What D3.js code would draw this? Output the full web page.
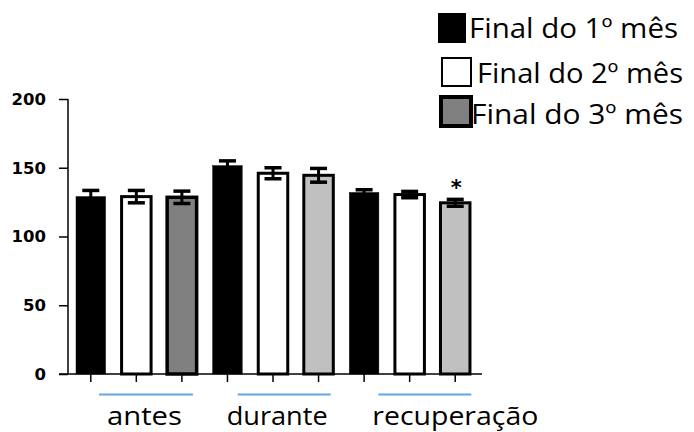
<!DOCTYPE html>
<html>
<head>
<meta charset="utf-8">
<script src="https://cdn.jsdelivr.net/npm/d3@7"></script>
<style>
html,body{margin:0;padding:0;background:#fff;}
svg{display:block;}
</style>
</head>
<body>
<svg id="chart" width="694" height="432"></svg>
<script>
// ---- data ----
const groups = ["antes", "durante", "recuperação"];
const seriesNames = ["Final do 1º mês", "Final do 2º mês", "Final do 3º mês"];
const month1 = [129, 151.5, 132];
const month2 = [129, 146, 130.5];
const month3 = [128.5, 144.5, 124.5];
const err1 = [4.5, 3.5, 2];
const err2 = [4.5, 4, 2.3];
const err3 = [4.5, 5, 2.5];
const yTicks = [0, 50, 100, 150, 200];
const significant = [{group: "recuperação", series: 2, label: "*"}];

// ---- styling ----
const fillFor = (g, s) => s === 0 ? "#000" : s === 1 ? "#fff" : (g === 0 ? "#808080" : "#c0c0c0");
const legendFill = ["#000", "#fff", "#808080"];

const svg = d3.select("#chart");
const values = [month1, month2, month3];
const errors = [err1, err2, err3];

const bars = [];
groups.forEach((g, gi) => {
  seriesNames.forEach((s, si) => {
    bars.push({id: gi + "-" + si, gi, si, group: g, v: values[si][gi], e: errors[si][gi]});
  });
});

const x = d3.scaleBand().domain(bars.map(d => d.id)).range([68, 478]).padding(0);
const y = d3.scaleLinear().domain([0, 200]).range([374, 99]);
const bw = 29.5;
const cx = d => x(d.id) + x.bandwidth() / 2;

// bars
svg.append("g").selectAll("rect").data(bars).join("rect")
  .attr("x", d => cx(d) - bw / 2)
  .attr("y", d => y(d.v))
  .attr("width", bw)
  .attr("height", d => y(0) - y(d.v))
  .attr("fill", d => fillFor(d.gi, d.si))
  .attr("stroke", "#000")
  .attr("stroke-width", d => d.si === 0 ? 0.5 : (d.gi === 0 && d.si === 2 ? 3.5 : 3));

// error bars
const eg = svg.append("g").attr("stroke", "#000");
const capW = 17;
bars.forEach(d => {
  const c = cx(d);
  eg.append("line").attr("x1", c).attr("x2", c).attr("y1", y(d.v - d.e)).attr("y2", y(d.v + d.e)).attr("stroke-width", 3);
  eg.append("line").attr("x1", c - capW / 2).attr("x2", c + capW / 2).attr("y1", y(d.v + d.e)).attr("y2", y(d.v + d.e)).attr("stroke-width", 3.5);
  eg.append("line").attr("x1", c - capW / 2).attr("x2", c + capW / 2).attr("y1", y(d.v - d.e)).attr("y2", y(d.v - d.e)).attr("stroke-width", 3.5);
});

// significance
significant.forEach(sg => {
  const d = bars.find(b => b.group === sg.group && b.si === sg.series);
  svg.append("text").attr("x", cx(d) + 1).attr("y", y(d.v + d.e) - 4)
    .attr("text-anchor", "middle").attr("font-family", "DejaVu Sans").attr("font-weight", "bold")
    .attr("font-size", 21).attr("fill", "#000").text(sg.label);
});

// y axis
const yAxis = d3.axisLeft(y).tickValues(yTicks).tickSize(9).tickPadding(13).tickSizeOuter(0);
const ya = svg.append("g").attr("transform", "translate(68,0)").call(yAxis);
ya.select(".domain").attr("stroke-width", 1.5).attr("d", `M0,${y(200)}V${y(0)}`);
ya.selectAll(".tick line").attr("stroke-width", 1.5);
ya.selectAll(".tick text").attr("font-family", "DejaVu Sans").attr("font-weight", "bold")
  .attr("font-size", 16.5).attr("fill", "#000");

// x axis
const xAxis = d3.axisBottom(x).tickSize(8).tickSizeOuter(0).tickFormat("");
const xa = svg.append("g").attr("transform", `translate(0,${y(0)})`).call(xAxis);
xa.select(".domain").attr("stroke-width", 1.5).attr("d", "M59,0H482");
xa.selectAll(".tick line").attr("stroke-width", 1.5);

// group lines and labels
const groupStart = gi => x(gi + "-0");
const lineOff = [[31, 125], [33, 126], [37, 130]];
const labelOff = [39, 22, 31];
const labelLen = [75, 101, 166];
groups.forEach((g, gi) => {
  svg.append("line").attr("x1", groupStart(gi) + lineOff[gi][0]).attr("x2", groupStart(gi) + lineOff[gi][1])
    .attr("y1", 394.5).attr("y2", 394.5).attr("stroke", "#62a6e2").attr("stroke-width", 1.8);
  svg.append("text").attr("x", groupStart(gi) + labelOff[gi]).attr("y", 425)
    .attr("font-family", "Open Sans").attr("font-size", 25.5).attr("fill", "#000")
    .attr("textLength", labelLen[gi]).attr("lengthAdjust", "spacingAndGlyphs").text(g);
});

// legend
const legSq = [{x: 438, y: 13, w: 28, h: 30, sw: 0}, {x: 442, y: 58, w: 29, h: 28, sw: 2}, {x: 441, y: 97, w: 30, h: 29, sw: 4}];
const legTx = [{x: 469, y: 37.5, w: 209}, {x: 477, y: 83, w: 206}, {x: 471, y: 123.5, w: 212}];
seriesNames.forEach((s, i) => {
  svg.append("rect").attr("x", legSq[i].x).attr("y", legSq[i].y).attr("width", legSq[i].w).attr("height", legSq[i].h)
    .attr("fill", legendFill[i]).attr("stroke", "#000").attr("stroke-width", legSq[i].sw);
  svg.append("text").attr("x", legTx[i].x).attr("y", legTx[i].y)
    .attr("font-family", "Open Sans").attr("font-size", 27).attr("fill", "#000")
    .attr("textLength", legTx[i].w).attr("lengthAdjust", "spacingAndGlyphs").text(s);
});
</script>
</body>
</html>
